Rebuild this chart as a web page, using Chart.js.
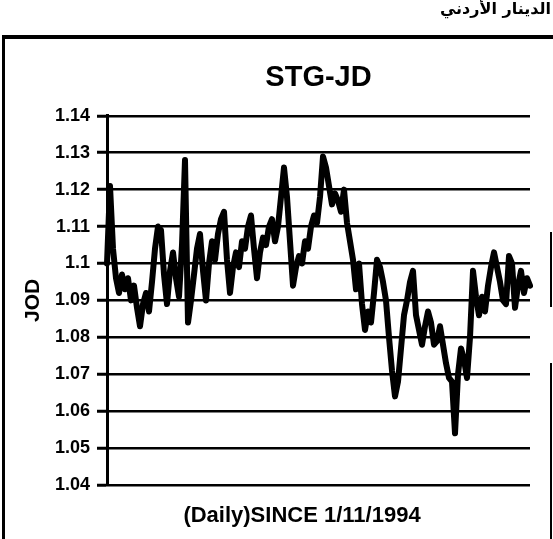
<!DOCTYPE html>
<html>
<head>
<meta charset="utf-8">
<script src="https://cdn.jsdelivr.net/npm/chart.js@4.4.1/dist/chart.umd.min.js"></script>
<style>
  html, body { margin: 0; padding: 0; background: #fff; }
</style>
</head>
<body>
<canvas id="stg-chart" width="553" height="539"></canvas>
<script>
// STG-JD daily rate
const stgJd = [
  1.100, 1.121, 1.104, 1.096, 1.092, 1.097, 1.093, 1.096, 1.090, 1.094,
  1.088, 1.083, 1.089, 1.092, 1.087, 1.095, 1.104, 1.110, 1.109, 1.097,
  1.089, 1.098, 1.103, 1.096, 1.091, 1.105, 1.128, 1.084, 1.090, 1.097,
  1.104, 1.108, 1.098, 1.090, 1.100, 1.106, 1.101, 1.108, 1.112, 1.114,
  1.101, 1.092, 1.099, 1.103, 1.099, 1.106, 1.104, 1.110, 1.113, 1.104,
  1.096, 1.103, 1.107, 1.105, 1.110, 1.112, 1.106, 1.110, 1.118, 1.126,
  1.118, 1.106, 1.094, 1.099, 1.102, 1.100, 1.106, 1.104, 1.110, 1.113,
  1.111, 1.118, 1.129, 1.126, 1.121, 1.116, 1.119, 1.117, 1.114, 1.120,
  1.111, 1.106, 1.101, 1.093, 1.100, 1.089, 1.082, 1.087, 1.084, 1.092,
  1.101, 1.099, 1.095, 1.090, 1.080, 1.071, 1.064, 1.068, 1.077, 1.086,
  1.090, 1.095, 1.098, 1.086, 1.082, 1.078, 1.083, 1.087, 1.084, 1.078,
  1.079, 1.083, 1.078, 1.073, 1.069, 1.068, 1.054, 1.070, 1.077, 1.074,
  1.069, 1.080, 1.098, 1.091, 1.086, 1.091, 1.087, 1.094, 1.099, 1.103,
  1.099, 1.095, 1.090, 1.089, 1.102, 1.100, 1.088, 1.094, 1.098, 1.092,
  1.096, 1.094
];
const days = stgJd.map((_, i) => i + 1);

const yTickValues = [1.04, 1.05, 1.06, 1.07, 1.08, 1.09, 1.10, 1.11, 1.12, 1.13, 1.14];
const yTickLabels = ['1.04', '1.05', '1.06', '1.07', '1.08', '1.09', '1.1', '1.11', '1.12', '1.13', '1.14'];

const chartTitle = 'STG-JD';
const xTitle = '(Daily)SINCE 1/11/1994';
const yTitle = 'JOD';
const headerText = 'الدينار الأردني';

const font = '"Liberation Sans", Arial, sans-serif';

// page frame, the clipped heading of the scanned page and the x caption
const framePlugin = {
  id: 'frame',
  afterDraw(chart) {
    const c = chart.ctx;
    c.save();
    c.fillStyle = '#000';
    c.fillRect(2, 35, 551, 4);
    c.fillRect(2, 35, 3, 504);
    c.fillRect(550, 232, 2, 75);
    c.fillRect(550, 363, 2, 176);
    c.textBaseline = 'middle';
    c.textAlign = 'center';
    c.font = 'bold 22px ' + font;
    c.fillText(xTitle, 302, 516);
    c.font = 'bold 16px "DejaVu Sans"';
    c.direction = 'rtl';
    c.textAlign = 'right';
    c.fillText(headerText, 551, 10);
    c.restore();
  }
};

new Chart(document.getElementById('stg-chart'), {
  type: 'line',
  data: {
    labels: days,
    datasets: [{
      data: stgJd,
      borderColor: '#000',
      borderWidth: 6,
      borderJoinStyle: 'round',
      borderCapStyle: 'round',
      pointRadius: 0,
      tension: 0
    }]
  },
  options: {
    responsive: false,
    animation: false,
    layout: { padding: { top: 0, left: 0, right: 23, bottom: 0 } },
    plugins: {
      legend: { display: false },
      tooltip: { enabled: false },
      title: {
        display: true,
        text: chartTitle,
        fullSize: false,
        color: '#000',
        font: { family: font, size: 29, weight: 'bold' },
        padding: { top: 61, bottom: 20 }
      }
    },
    scales: {
      x: {
        ticks: { display: false },
        grid: { display: false },
        border: { display: false },
        afterFit(scale) { scale.height = 54; }
      },
      y: {
        min: 1.04,
        max: 1.14,
        afterBuildTicks(scale) {
          scale.ticks = yTickValues.map(v => ({ value: v }));
        },
        ticks: {
          color: '#000',
          padding: 7,
          font: { family: font, size: 18, weight: 'bold' },
          callback: (v, i) => yTickLabels[i]
        },
        grid: { color: '#000', lineWidth: 2.5, tickLength: 10, tickWidth: 3 },
        border: { display: true, color: '#000', width: 3 },
        title: {
          display: true,
          text: yTitle,
          color: '#000',
          font: { family: font, size: 21, weight: 'bold' },
          padding: { top: 21, bottom: 0 }
        },
        afterFit(scale) { scale.width = 107; }
      }
    }
  },
  plugins: [framePlugin]
});
</script>
</body>
</html>
